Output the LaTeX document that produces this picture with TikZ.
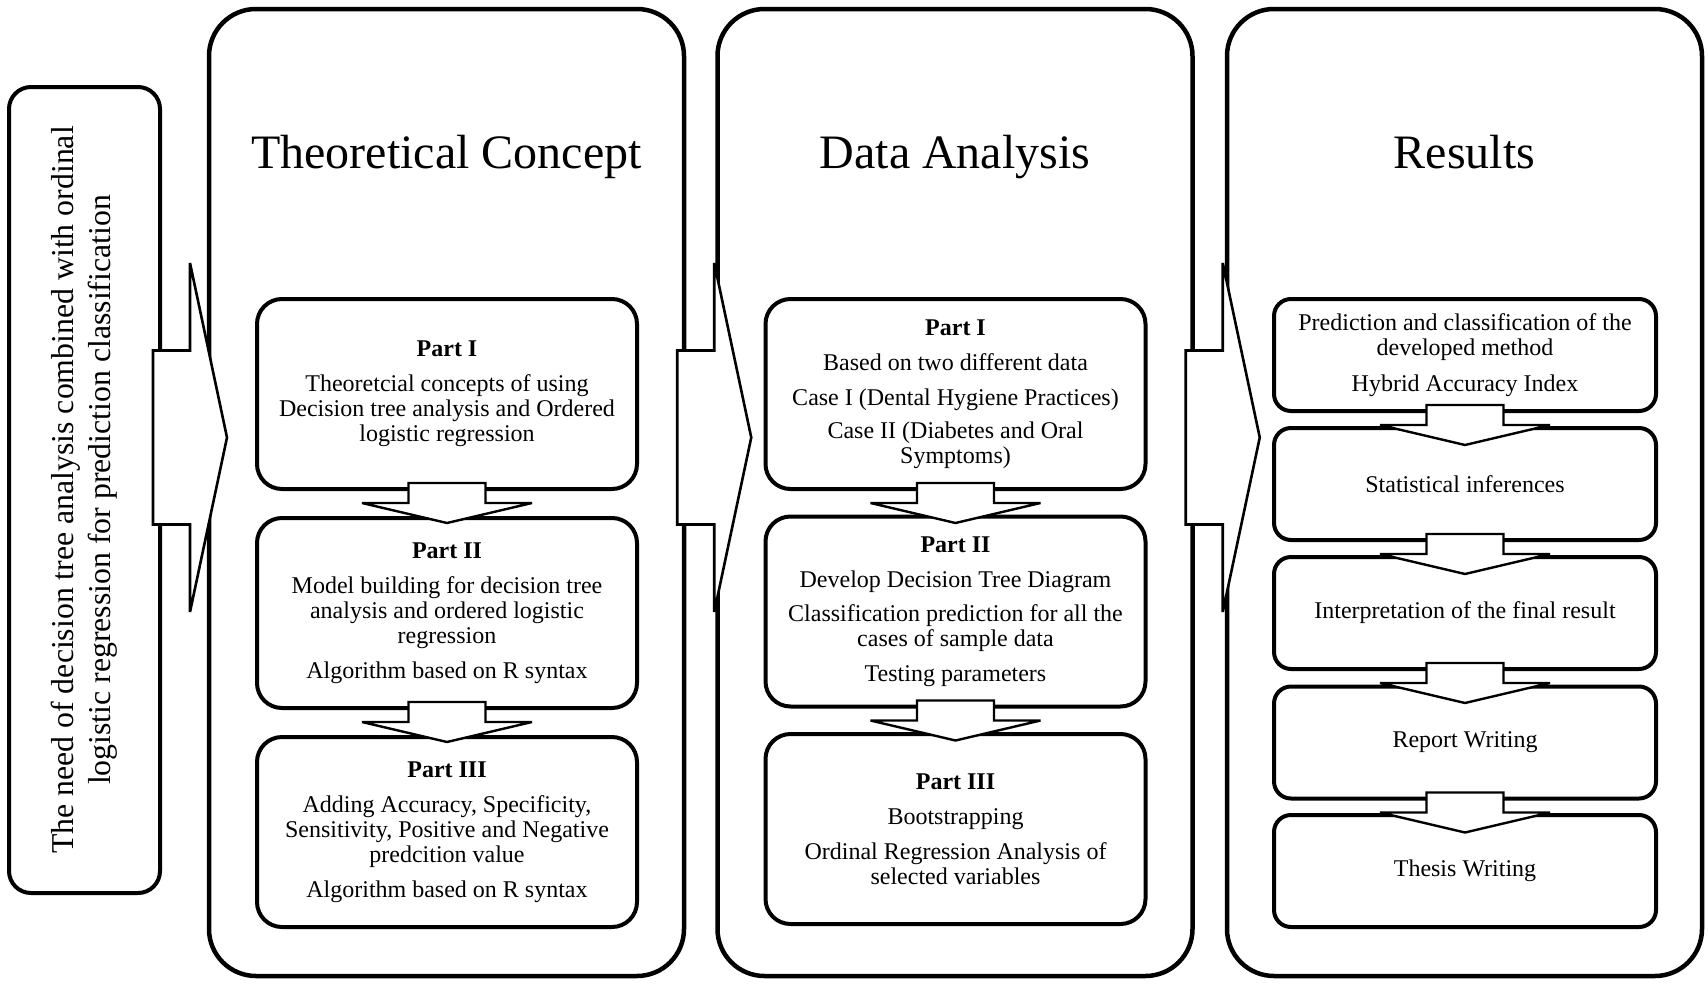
\documentclass[tikz,border=0pt]{standalone}
\usepackage{fontspec}
\setmainfont{Liberation Serif}
\usetikzlibrary{calc}
\begin{document}
\begin{tikzpicture}[x=1pt,y=-1pt,
    panel/.style={draw, line width=4.5pt, rounded corners=47pt, minimum width=475pt, minimum height=967pt, inner sep=0pt},
    partbox/.style={draw, line width=4pt, rounded corners=25pt, minimum width=380pt, minimum height=190pt, inner sep=0pt, align=center, font=\fontsize{24}{25}\selectfont},
    resbox/.style={partbox, rounded corners=17pt, minimum width=382pt, minimum height=112pt},
    needbox/.style={draw, line width=4pt, rounded corners=22pt, rotate=90, minimum width=806pt, minimum height=151pt, inner sep=0pt, align=center, font=\fontsize{31.8}{37}\selectfont},
    heading/.style={anchor=base, font=\fontsize{48}{50}\selectfont},
    blockarrow/.style={draw, fill=white, line width=2.6pt, line join=miter, miter limit=2},
    flowarrow/.style={draw, fill=white, line width=2.4pt, line join=miter, miter limit=2}]
    \useasboundingbox (0,0) rectangle (1708,985);

    % Panels
    \node[panel] (theory) at (446.5,492.5) {};
    \node[panel] (data) at (955,492.5) {};
    \node[panel] (results) at (1464.5,492.5) {};

    % Starting point
    \node[needbox] (need) at (84.5,490) {The need of decision tree analysis combined with ordinal\\logistic regression for prediction classification};

    % Headings
    \node[heading] (theoryhead) at (446.5,168) {Theoretical Concept};
    \node[heading] (datahead) at (955,168) {Data Analysis};
    \node[heading] (resultshead) at (1464.5,168) {Results};

    % Theoretical concept
    \node[partbox] (tcI) at (447,394) {\textbf{Part I}\\[10pt]Theoretcial concepts of using\\Decision tree analysis and Ordered\\logistic regression};
    \node[partbox] (tcII) at (447,613) {\textbf{Part II}\\[10pt]Model building for decision tree\\analysis and ordered logistic\\regression\\[10pt]Algorithm based on R syntax};
    \node[partbox] (tcIII) at (447,832) {\textbf{Part III}\\[10pt]Adding Accuracy, Specificity,\\Sensitivity, Positive and Negative\\predcition value\\[10pt]Algorithm based on R syntax};

    % Data analysis
    \node[partbox] (daI) at (955.5,394) {\textbf{Part I}\\[10pt]Based on two different data\\[10pt]Case I (Dental Hygiene Practices)\\[8pt]Case II (Diabetes and Oral\\Symptoms)};
    \node[partbox] (daII) at (955.5,611.5) {\textbf{Part II}\\[10pt]Develop Decision Tree Diagram\\[9pt]Classification prediction for all the\\cases of sample data\\[10pt]Testing parameters};
    \node[partbox] (daIII) at (955.5,829) {\textbf{Part III}\\[10pt]Bootstrapping\\[10pt]Ordinal Regression Analysis of\\selected variables};

    % Results
    \node[resbox] (resA) at (1465,355) {Prediction and classification of the\\developed method\\[11pt]Hybrid Accuracy Index};
    \node[resbox] (resB) at (1465,484) {Statistical inferences};
    \node[resbox] (resC) at (1465,613) {Interpretation of the final result};
    \node[resbox] (resD) at (1465,742.5) {Report Writing};
    \node[resbox] (resE) at (1465,871) {Thesis Writing};

    % Arrows between panels
    \coordinate (axis) at (0,437.5);
    \foreach \from in {need.south, theory.east, data.east}
        \draw[blockarrow] ($(\from |- axis)+(-9,0)$) -- ++(0,-87) -- ++(37,0) -- ++(0,-87.5)
            -- ++(37,174.5) -- ++(-37,174.5) -- ++(0,-87.5) -- ++(-37,0) -- cycle;

    % Arrows inside panels
    \foreach \from in {tcI, tcII, daI, daII, resA, resB, resC, resD}
        \draw[flowarrow] ($(\from.south)+(-38.5,-8)$) -- ++(77,0) -- ++(0,20) -- ++(46.5,0)
            -- ++(-85,20) -- ++(-85,-20) -- ++(46.5,0) -- cycle;
\end{tikzpicture}
\end{document}
